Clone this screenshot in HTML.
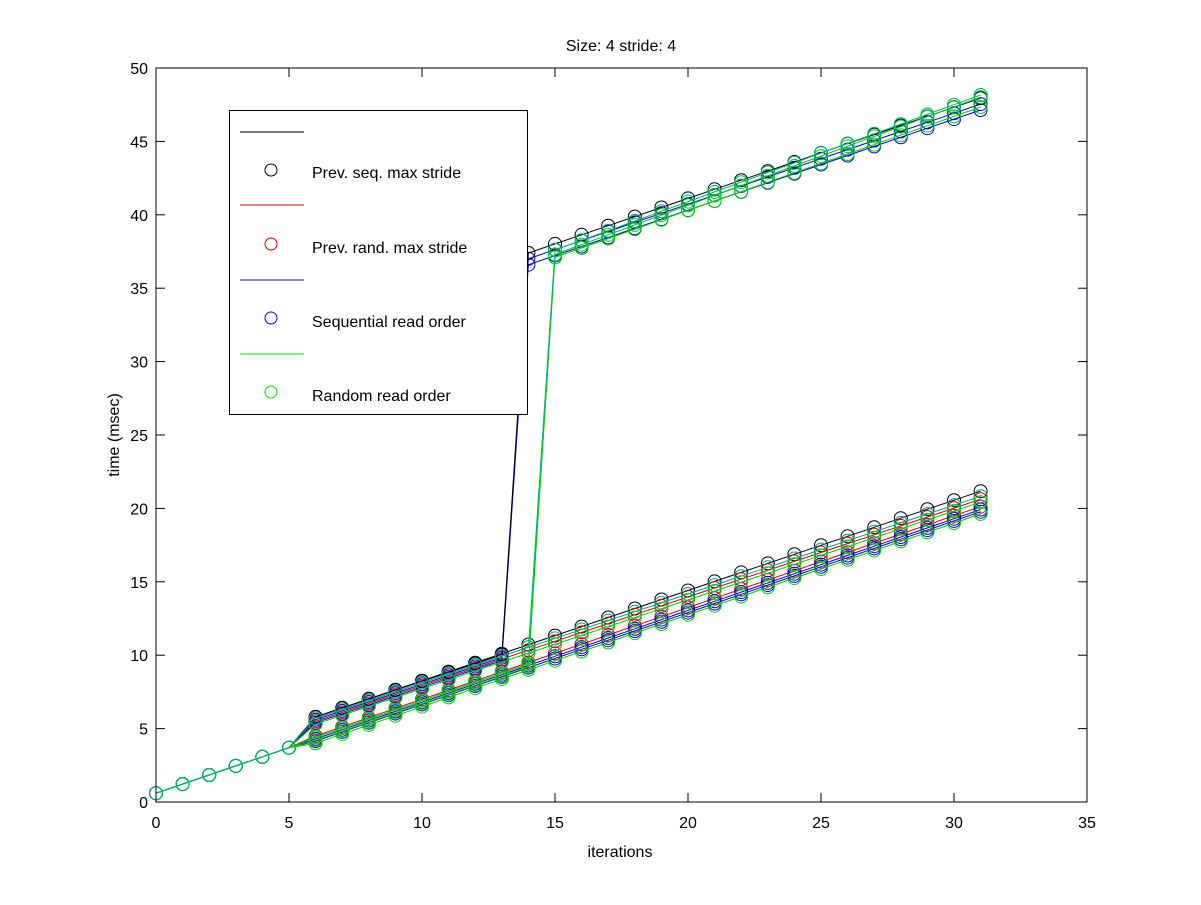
<!DOCTYPE html>
<html><head><meta charset="utf-8"><style>
body{margin:0;background:#fff}
svg text{font-family:"Liberation Sans",sans-serif;font-size:16px;fill:#000}
</style></head><body>
<svg id="s" width="1201" height="900" xmlns="http://www.w3.org/2000/svg">
<rect width="1201" height="900" fill="#fff"/>
<text x="621" y="51" text-anchor="middle">Size: 4 stride: 4</text>
<text x="620" y="857" text-anchor="middle">iterations</text>
<text transform="translate(119,435) rotate(-90)" text-anchor="middle">time (msec)</text>
<g id="ticks"></g>
<g id="data" fill="none"></g>
<rect x="156" y="68" width="931" height="734" fill="none" stroke="#000"/>
<g>
<rect x="229.5" y="110.5" width="298" height="304" fill="#fff" stroke="#000"/>
<line x1="240" x2="304" y1="132" y2="132" stroke="#000"/>
<circle cx="271" cy="170" r="6" fill="none" stroke="#000"/>
<text x="312" y="178">Prev. seq. max stride</text>
<line x1="240" x2="304" y1="205" y2="205" stroke="#e00000"/>
<circle cx="271" cy="244" r="6" fill="none" stroke="#e00000"/>
<text x="312" y="253">Prev. rand. max stride</text>
<line x1="240" x2="304" y1="280" y2="280" stroke="#0000e0"/>
<circle cx="271" cy="318" r="6" fill="none" stroke="#0000e0"/>
<text x="312" y="327">Sequential read order</text>
<line x1="240" x2="304" y1="354" y2="354" stroke="#00e000"/>
<circle cx="271" cy="392" r="6" fill="none" stroke="#00e000"/>
<text x="312" y="401">Random read order</text>
</g>
</svg>
<script>
var X=function(v){return 156+v*26.6},Y=function(v){return 802-v*14.68};
var t='';
for(var i=0;i<=35;i+=5){t+='<line x1="'+X(i)+'" x2="'+X(i)+'" y1="802" y2="793" stroke="#000"/><line x1="'+X(i)+'" x2="'+X(i)+'" y1="68" y2="77" stroke="#000"/><text x="'+X(i)+'" y="828" text-anchor="middle">'+i+'</text>';}
for(var j=0;j<=50;j+=5){t+='<line x1="156" x2="165" y1="'+Y(j)+'" y2="'+Y(j)+'" stroke="#000"/><line x1="1087" x2="1078" y1="'+Y(j)+'" y2="'+Y(j)+'" stroke="#000"/><text x="148" y="'+(Y(j)+6)+'" text-anchor="end">'+j+'</text>';}
document.getElementById('ticks').innerHTML=t;
function base(x){return 0.6+0.62*x;}
function hi(x,o){return x<=5?base(x):5.6+o+0.605*(x-6);}
function lo(x,o){return x<=5?base(x):4.3+o+0.625*(x-6);}
function up(x,o){return 36.9+o+0.62*(x-14);}
var S=[
['#000',function(x){return hi(x,0.2)+0.01*Math.max(0,x-6)}],
['#d00',function(x){return lo(x,0.2)}],
['#d00',function(x){return hi(x,-0.1)}],
['#00a0a0',function(x){return hi(x,0.1)}],
['#0000e0',function(x){return x<=13?hi(x,0):up(x,0.1)}],
['#0000e0',function(x){return x<=13?hi(x,-0.2):up(x,-0.3)}],
['#0000e0',function(x){return lo(x,0)}],
['#0000e0',function(x){return lo(x,-0.15)}],
['#000',function(x){return x<=13?hi(x,0.2):up(x,0.5)}],
['#00d000',function(x){return x<=14?lo(x,0.1):37.3+0.67*(x-15)}],
['#00d000',function(x){return x<=14?lo(x,-0.1):37.1+0.64*(x-15)}],
['#00d000',function(x){return hi(x,-0.3)}],
['#00d000',function(x){return lo(x,-0.3)}],
['#00b080',function(x){return x<=14?hi(x,0.1):37.6+0.66*(x-15)}]
];
var h='';
S.forEach(function(s){var p=[],c='';for(var x=0;x<=31;x++){var v=s[1](x);p.push(X(x).toFixed(1)+','+Y(v).toFixed(1));c+='<circle cx="'+X(x).toFixed(1)+'" cy="'+Y(v).toFixed(1)+'" r="6.5"/>';}
h+='<g stroke="'+s[0]+'"><polyline points="'+p.join(' ')+'"/>'+c+'</g>';});
document.getElementById('data').innerHTML=h;
</script>
</body></html>
